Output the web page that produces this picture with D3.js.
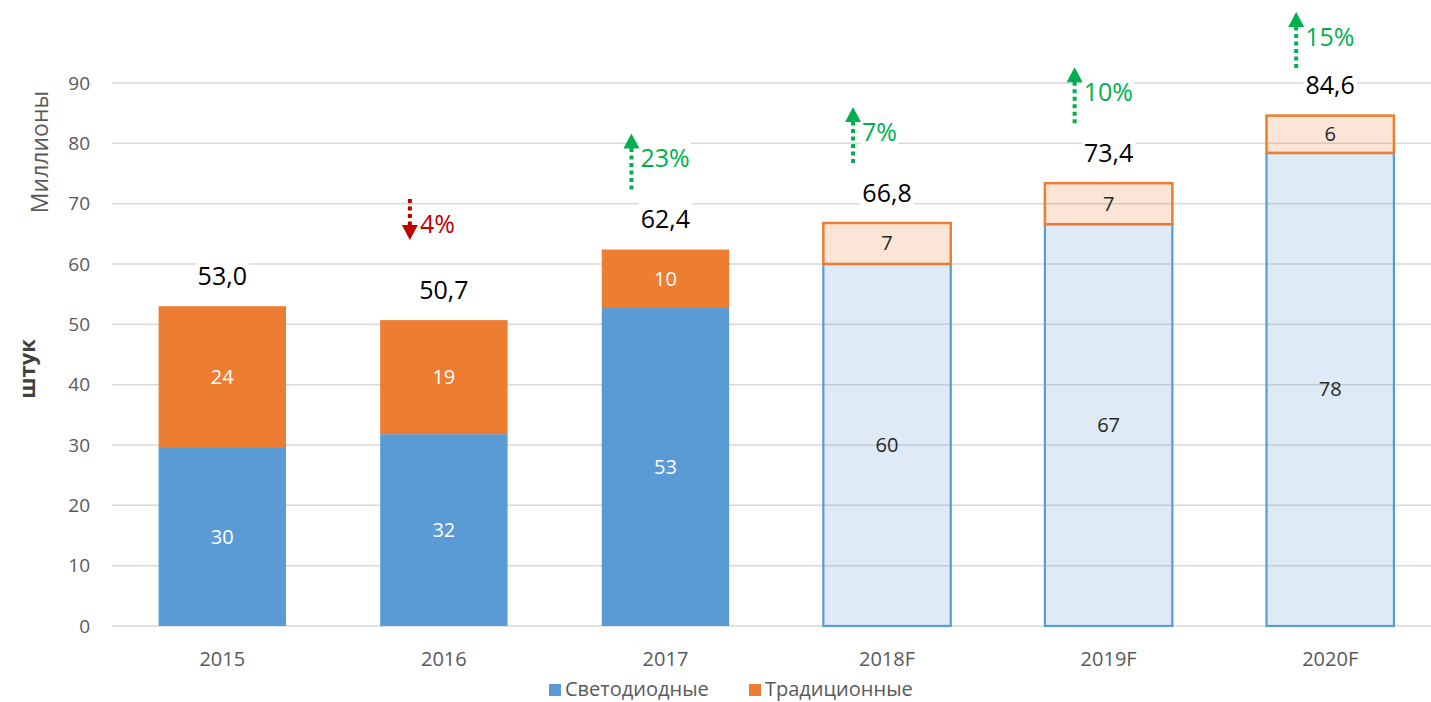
<!DOCTYPE html>
<html><head><meta charset="utf-8">
<script src="https://cdn.jsdelivr.net/npm/d3@7"></script>
<style>
html,body{margin:0;padding:0;background:#fff;}
svg{display:block;font-family:"Open Sans","Noto Sans",sans-serif;}
</style></head>
<body><svg id="chart" width="1431" height="702"></svg>
<script>
const categories = ["2015","2016","2017","2018F","2019F","2020F"];
const forecast = [false,false,false,true,true,true];
const ledValues = [29.5, 31.8, 52.7, 60.0, 66.6, 78.4];
const tradValues = [23.5, 18.9, 9.7, 6.8, 6.8, 6.2];
const changeLabels = [null, "4%", "23%", "7%", "10%", "15%"];
const changeDir = [0, -1, 1, 1, 1, 1];
const yTicks = [0,10,20,30,40,50,60,70,80,90];
const seriesNames = ["Светодиодные","Традиционные"];

const BLUE = "#5B9BD5", ORANGE = "#ED7D31", GREEN = "#00B050", RED = "#C00000", GREY = "#595959";

const svg = d3.select("#chart");
const x = d3.scaleBand().domain(categories).range([111.5, 1441]).paddingInner(0.425).paddingOuter(0.2125);
const y = d3.scaleLinear().domain([0, 90]).range([626, 83]);
const locale = d3.formatLocale({decimal: ",", thousands: " ", grouping: [3], currency: ["", ""]});
const fmtTotal = locale.format(".1f");
const fmtInt = d3.format(".0f");

const data = categories.map((c, i) => ({
  cat: c, led: ledValues[i], trad: tradValues[i], total: ledValues[i] + tradValues[i],
  forecast: forecast[i], change: changeLabels[i], dir: changeDir[i]
}));

// gridlines
svg.append("g").selectAll("line").data(yTicks).join("line")
  .attr("x1", 112).attr("x2", 1441)
  .attr("y1", d => y(d)).attr("y2", d => y(d))
  .attr("stroke", "#D9D9D9").attr("stroke-width", 1.5);

// y tick labels
svg.append("g").selectAll("text").data(yTicks).join("text")
  .attr("x", 90).attr("y", d => y(d)).attr("dy", "0.35em")
  .attr("text-anchor", "end").attr("fill", GREY).attr("font-size", 19)
  .text(d => d);

// y titles
svg.append("text").attr("transform", "translate(48,152) rotate(-90)")
  .attr("text-anchor", "middle").attr("fill", GREY).attr("font-size", 23)
  .text("Миллионы");
svg.append("text").attr("transform", "translate(35,369) rotate(-90)")
  .attr("text-anchor", "middle").attr("fill", "#404040").attr("font-size", 22).attr("font-weight", "bold")
  .text("штук");

// bars
const bw = x.bandwidth();
const bars = svg.append("g");
data.forEach(d => {
  const x0 = x(d.cat);
  if (!d.forecast) {
    bars.append("rect").attr("x", x0).attr("width", bw)
      .attr("y", y(d.led)).attr("height", y(0) - y(d.led)).attr("fill", BLUE);
    bars.append("rect").attr("x", x0).attr("width", bw)
      .attr("y", y(d.total)).attr("height", y(d.led) - y(d.total)).attr("fill", ORANGE);
  } else {
    bars.append("rect").attr("x", x0).attr("width", bw)
      .attr("y", y(d.led)).attr("height", y(0) - y(d.led))
      .attr("fill", BLUE).attr("fill-opacity", 0.2)
      .attr("stroke", BLUE).attr("stroke-width", 2.2);
    bars.append("rect").attr("x", x0).attr("width", bw)
      .attr("y", y(d.total)).attr("height", y(d.led) - y(d.total))
      .attr("fill", ORANGE).attr("fill-opacity", 0.2)
      .attr("stroke", ORANGE).attr("stroke-width", 2.5);
  }
});

// inner labels
const inner = svg.append("g").attr("font-size", 20).attr("text-anchor", "middle");
data.forEach(d => {
  const cx = x(d.cat) + bw / 2;
  const col = d.forecast ? "#262626" : "#FFFFFF";
  inner.append("text").attr("x", cx).attr("y", (y(0) + y(d.led)) / 2).attr("dy", "0.35em")
    .attr("fill", col).text(fmtInt(d.led));
  inner.append("text").attr("x", cx).attr("y", (y(d.led) + y(d.total)) / 2).attr("dy", "0.35em")
    .attr("fill", col).text(fmtInt(d.trad));
});

// total labels with white background
const totals = svg.append("g");
data.forEach(d => {
  const cx = x(d.cat) + bw / 2;
  const cy = y(d.total) - 30;
  const g = totals.append("g");
  const bg = g.append("rect").attr("fill", "#fff");
  const t = g.append("text").attr("x", cx).attr("y", cy).attr("dy", "0.35em")
    .attr("text-anchor", "middle").attr("font-size", 25).attr("fill", "#000")
    .text(fmtTotal(d.total));
  const bb = t.node().getBBox();
  bg.attr("x", bb.x - 2).attr("y", bb.y - 1).attr("width", bb.width + 4).attr("height", bb.height + 2);
});

// change arrows
const arrows = svg.append("g");
data.forEach(d => {
  if (!d.change) return;
  const cx = x(d.cat) + bw / 2;
  const ax = cx - 34;
  const top = y(d.total);
  const col = d.dir > 0 ? GREEN : RED;
  if (d.dir > 0) {
    const tip = Math.max(top - 116, 12);
    const bottom = tip + 56;
    arrows.append("line").attr("x1", ax).attr("x2", ax).attr("y1", bottom).attr("y2", tip + 14)
      .attr("stroke", col).attr("stroke-width", 4).attr("stroke-dasharray", "4,3.5");
    arrows.append("path").attr("d", `M${ax - 8},${tip + 15} L${ax + 8},${tip + 15} L${ax},${tip} Z`).attr("fill", col);
    const g = arrows.append("g");
    const bg = g.append("rect").attr("fill", "#fff");
    const t = g.append("text").attr("x", ax + 9).attr("y", tip + 25).attr("dy", "0.35em")
      .attr("font-size", 25).attr("fill", col).text(d.change);
    const bb = t.node().getBBox();
    bg.attr("x", bb.x - 1).attr("y", bb.y).attr("width", bb.width + 2).attr("height", bb.height);
  } else {
    const start = top - 121;
    const tip = top - 80;
    arrows.append("line").attr("x1", ax).attr("x2", ax).attr("y1", start).attr("y2", tip - 14)
      .attr("stroke", col).attr("stroke-width", 4).attr("stroke-dasharray", "4,3.5");
    arrows.append("path").attr("d", `M${ax - 8},${tip - 15} L${ax + 8},${tip - 15} L${ax},${tip} Z`).attr("fill", col);
    const g = arrows.append("g");
    const bg = g.append("rect").attr("fill", "#fff");
    const t = g.append("text").attr("x", ax + 10).attr("y", top - 96).attr("dy", "0.35em")
      .attr("font-size", 25).attr("fill", col).text(d.change);
    const bb = t.node().getBBox();
    bg.attr("x", bb.x - 1).attr("y", bb.y).attr("width", bb.width + 2).attr("height", bb.height);
  }
});

// x axis labels
svg.append("g").selectAll("text").data(categories).join("text")
  .attr("x", d => x(d) + bw / 2).attr("y", 659).attr("dy", "0.35em")
  .attr("text-anchor", "middle").attr("fill", GREY).attr("font-size", 20)
  .text(d => d);

// legend
const legend = svg.append("g");
const legendX = [549, 749];
[BLUE, ORANGE].forEach((c, i) => {
  legend.append("rect").attr("x", legendX[i]).attr("y", 684).attr("width", 12).attr("height", 12).attr("fill", c);
  legend.append("text").attr("x", legendX[i] + 16).attr("y", 689).attr("dy", "0.35em")
    .attr("fill", GREY).attr("font-size", 20).text(seriesNames[i]);
});
</script></body></html>
